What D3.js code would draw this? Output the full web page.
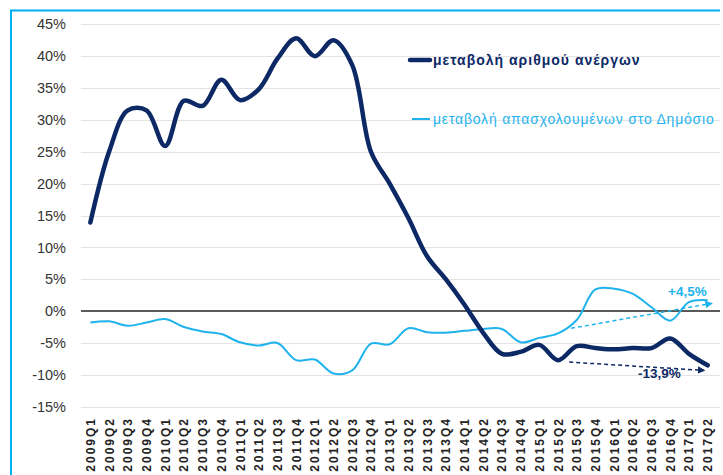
<!DOCTYPE html>
<html lang="el">
<head>
<meta charset="UTF-8">
<title>Μεταβολή ανέργων και απασχολουμένων στο Δημόσιο</title>
<script src="https://d3js.org/d3.v7.min.js"></script>
<style>
  html, body { margin: 0; padding: 0; background: #fff; }
  svg { display: block; font-family: "Liberation Sans", Arial, sans-serif; }
</style>
</head>
<body>
<svg width="723" height="475"></svg>
<script>
// quarters on the x axis
const quarters = [
  "2009Q1","2009Q2","2009Q3","2009Q4","2010Q1","2010Q2","2010Q3","2010Q4",
  "2011Q1","2011Q2","2011Q3","2011Q4","2012Q1","2012Q2","2012Q3","2012Q4",
  "2013Q1","2013Q2","2013Q3","2013Q4","2014Q1","2014Q2","2014Q3","2014Q4",
  "2015Q1","2015Q2","2015Q3","2015Q4","2016Q1","2016Q2","2016Q3","2016Q4",
  "2017Q1","2017Q2"
];

// μεταβολή αριθμού ανέργων (%)
const unemployed = [
  13.9, 25.0, 31.5, 31.5, 25.9, 33.0, 32.2, 36.3,
  33.1, 34.8, 39.6, 42.8, 40.0, 42.5, 38.6, 25.0,
  20.0, 14.6, 8.6, 5.0, 1.0, -3.4, -6.7, -6.4,
  -5.3, -7.7, -5.5, -5.8, -6.0, -5.8, -5.8, -4.3,
  -6.7, -8.5
];

// μεταβολή απασχολουμένων στο Δημόσιο (%)
const publicEmployed = [
  -1.8, -1.6, -2.3, -1.8, -1.25, -2.5, -3.2, -3.6,
  -4.9, -5.4, -5.0, -7.7, -7.6, -9.8, -9.3, -5.1,
  -5.2, -2.7, -3.3, -3.4, -3.1, -2.8, -2.8, -4.9,
  -4.2, -3.5, -1.4, 3.4, 3.5, 2.7, 0.6, -1.5,
  1.4, 1.7
];

const yTicks = [-15, -10, -5, 0, 5, 10, 15, 20, 25, 30, 35, 40, 45];

// trend arrows: fractional quarter index and value
const trendPublic = [{i: 25.7, v: -2.7}, {i: 33.2, v: 1.2}];
const trendUnemployed = [{i: 25.6, v: -8.0}, {i: 32.8, v: -9.3}];

const labels = {
  unemployed: "μεταβολή αριθμού ανέργων",
  publicEmployed: "μεταβολή απασχολουμένων στο Δημόσιο",
  trendPublic: "+4,5%",
  trendUnemployed: "-13,9%"
};

const navy = "#0c2865";
const sky = "#1fb3ee";

const svg = d3.select("svg");

// outer frame (left and top edges visible)
svg.append("line").attr("x1", 11).attr("x2", 11).attr("y1", 10).attr("y2", 475)
   .attr("stroke", "#00b0f0").attr("stroke-width", 2);
svg.append("line").attr("x1", 10).attr("x2", 720).attr("y1", 10.5).attr("y2", 10.5)
   .attr("stroke", "#00b0f0").attr("stroke-width", 2);

const x = d3.scaleBand().domain(quarters).range([81, 717]);
const y = d3.scaleLinear().domain([-15, 45]).range([406.7, 24.3]);
const xc = d => x(d) + x.bandwidth() / 2;
const xi = i => x(quarters[0]) + x.bandwidth() / 2 + i * x.step();

// gridlines
svg.append("g").selectAll("line")
  .data(yTicks.filter(t => t !== 0))
  .join("line")
  .attr("x1", 81).attr("x2", 720)
  .attr("y1", d => Math.round(y(d)) + 0.5).attr("y2", d => Math.round(y(d)) + 0.5)
  .attr("stroke", "#e4e4e4").attr("stroke-width", 1);

// y axis labels
const yAxis = d3.axisLeft(y).tickValues(yTicks).tickFormat(d => d + "%").tickSize(0).tickPadding(0);
const gy = svg.append("g").attr("transform", "translate(66,0)").call(yAxis);
gy.select(".domain").remove();
gy.selectAll("text").attr("font-size", 14.5).attr("fill", "#333")
  .attr("font-family", "'Liberation Sans', Arial, sans-serif");

// x axis labels
const gx = svg.append("g");
gx.selectAll("text")
  .data(quarters)
  .join("text")
  .attr("transform", d => `translate(${xc(d) + 4.5},417) rotate(-90)`)
  .attr("text-anchor", "end")
  .attr("font-size", 12)
  .attr("font-weight", "bold")
  .attr("letter-spacing", 2)
  .attr("fill", "#222")
  .text(d => d);

// zero line
svg.append("line")
  .attr("x1", 81).attr("x2", 720)
  .attr("y1", y(0)).attr("y2", y(0))
  .attr("stroke", "#5a5a5a").attr("stroke-width", 2);

const line = d3.line()
  .x((d, i) => xc(quarters[i]))
  .y(d => y(d))
  .curve(d3.curveCatmullRom.alpha(0.5));

svg.append("path")
  .datum(publicEmployed)
  .attr("d", line)
  .attr("fill", "none")
  .attr("stroke", sky)
  .attr("stroke-width", 2);

svg.append("path")
  .datum(unemployed)
  .attr("d", line)
  .attr("fill", "none")
  .attr("stroke", navy)
  .attr("stroke-width", 4.5)
  .attr("stroke-linecap", "round");

// arrowheads
const defs = svg.append("defs");
[["arrSky", sky], ["arrNavy", navy]].forEach(([id, c]) => {
  defs.append("marker")
    .attr("id", id)
    .attr("viewBox", "0 0 10 10")
    .attr("refX", 8).attr("refY", 5)
    .attr("markerWidth", 5).attr("markerHeight", 5)
    .attr("orient", "auto")
    .append("path").attr("d", "M0,0L10,5L0,10z").attr("fill", c);
});

const trendLine = d3.line().x(d => xi(d.i)).y(d => y(d.v));
svg.append("path").datum(trendPublic).attr("d", trendLine)
  .attr("stroke", sky).attr("stroke-width", 1.5).attr("fill", "none")
  .attr("stroke-dasharray", "4,3").attr("marker-end", "url(#arrSky)");
svg.append("path").datum(trendUnemployed).attr("d", trendLine)
  .attr("stroke", navy).attr("stroke-width", 1.5).attr("fill", "none")
  .attr("stroke-dasharray", "4,3").attr("marker-end", "url(#arrNavy)");

svg.append("text").attr("x", 668).attr("y", 296)
  .attr("font-size", 13.5).attr("font-weight", "bold").attr("fill", sky)
  .text(labels.trendPublic);
svg.append("text").attr("x", 638).attr("y", 378)
  .attr("font-size", 13.5).attr("font-weight", "bold").attr("fill", navy)
  .text(labels.trendUnemployed);

// legend
const legend = svg.append("g");
legend.append("line").attr("x1", 410).attr("x2", 430).attr("y1", 60).attr("y2", 60)
  .attr("stroke", navy).attr("stroke-width", 4.5).attr("stroke-linecap", "round");
legend.append("text").attr("x", 433).attr("y", 65)
  .attr("font-size", 14).attr("font-weight", "bold").attr("fill", navy)
  .attr("letter-spacing", 1.0)
  .text(labels.unemployed);
legend.append("line").attr("x1", 412).attr("x2", 430).attr("y1", 119).attr("y2", 119)
  .attr("stroke", sky).attr("stroke-width", 2);
legend.append("text").attr("x", 433).attr("y", 124)
  .attr("font-size", 14).attr("fill", sky)
  .attr("letter-spacing", 0.8)
  .text(labels.publicEmployed);
</script>
</body>
</html>
